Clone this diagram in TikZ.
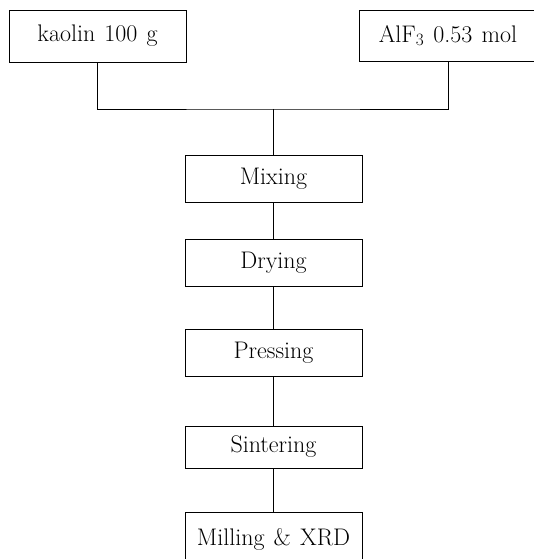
\documentclass[tikz,border=0pt]{standalone}
\newcommand{\wsp}{\hspace{0.38em}}
\begin{document}
\begin{tikzpicture}[x=1pt,y=-1pt,
  stepbox/.style={draw,line width=0.8pt,inner sep=0pt,minimum width=177pt,
    font=\fontsize{24}{28}\selectfont},
  link/.style={line width=0.8pt}]
\useasboundingbox (0,0) rectangle (533,559);
\node[stepbox,minimum height=52pt] (kaolin) at (97.5,36) {kaolin\wsp 100\wsp g};
\node[stepbox,minimum height=51pt] (alf) at (448,35.5) {AlF$_3$\wsp 0.53\wsp mol};
\node[stepbox,minimum height=47pt] (mix) at (273.5,178.5) {Mixing};
\node[stepbox,minimum height=47pt] (dry) at (273.5,262.5) {Drying};
\node[stepbox,minimum height=47pt] (press) at (273.5,352.5) {Pressing};
\node[stepbox,minimum height=42pt] (sint) at (273.5,447) {Sintering};
\node[stepbox,minimum height=50pt,text depth=0pt] (mill) at (273.5,537) {Milling\wsp\&\wsp XRD};
\coordinate (j) at (273.5,109);
\draw[link] (kaolin.south) |- (j) -| (alf.south);
\draw[link] (j) -- (mix.north);
\draw[link] (mix) -- (dry);
\draw[link] (dry) -- (press);
\draw[link] (press) -- (sint);
\draw[link] (sint) -- (mill);
\end{tikzpicture}
\end{document}
